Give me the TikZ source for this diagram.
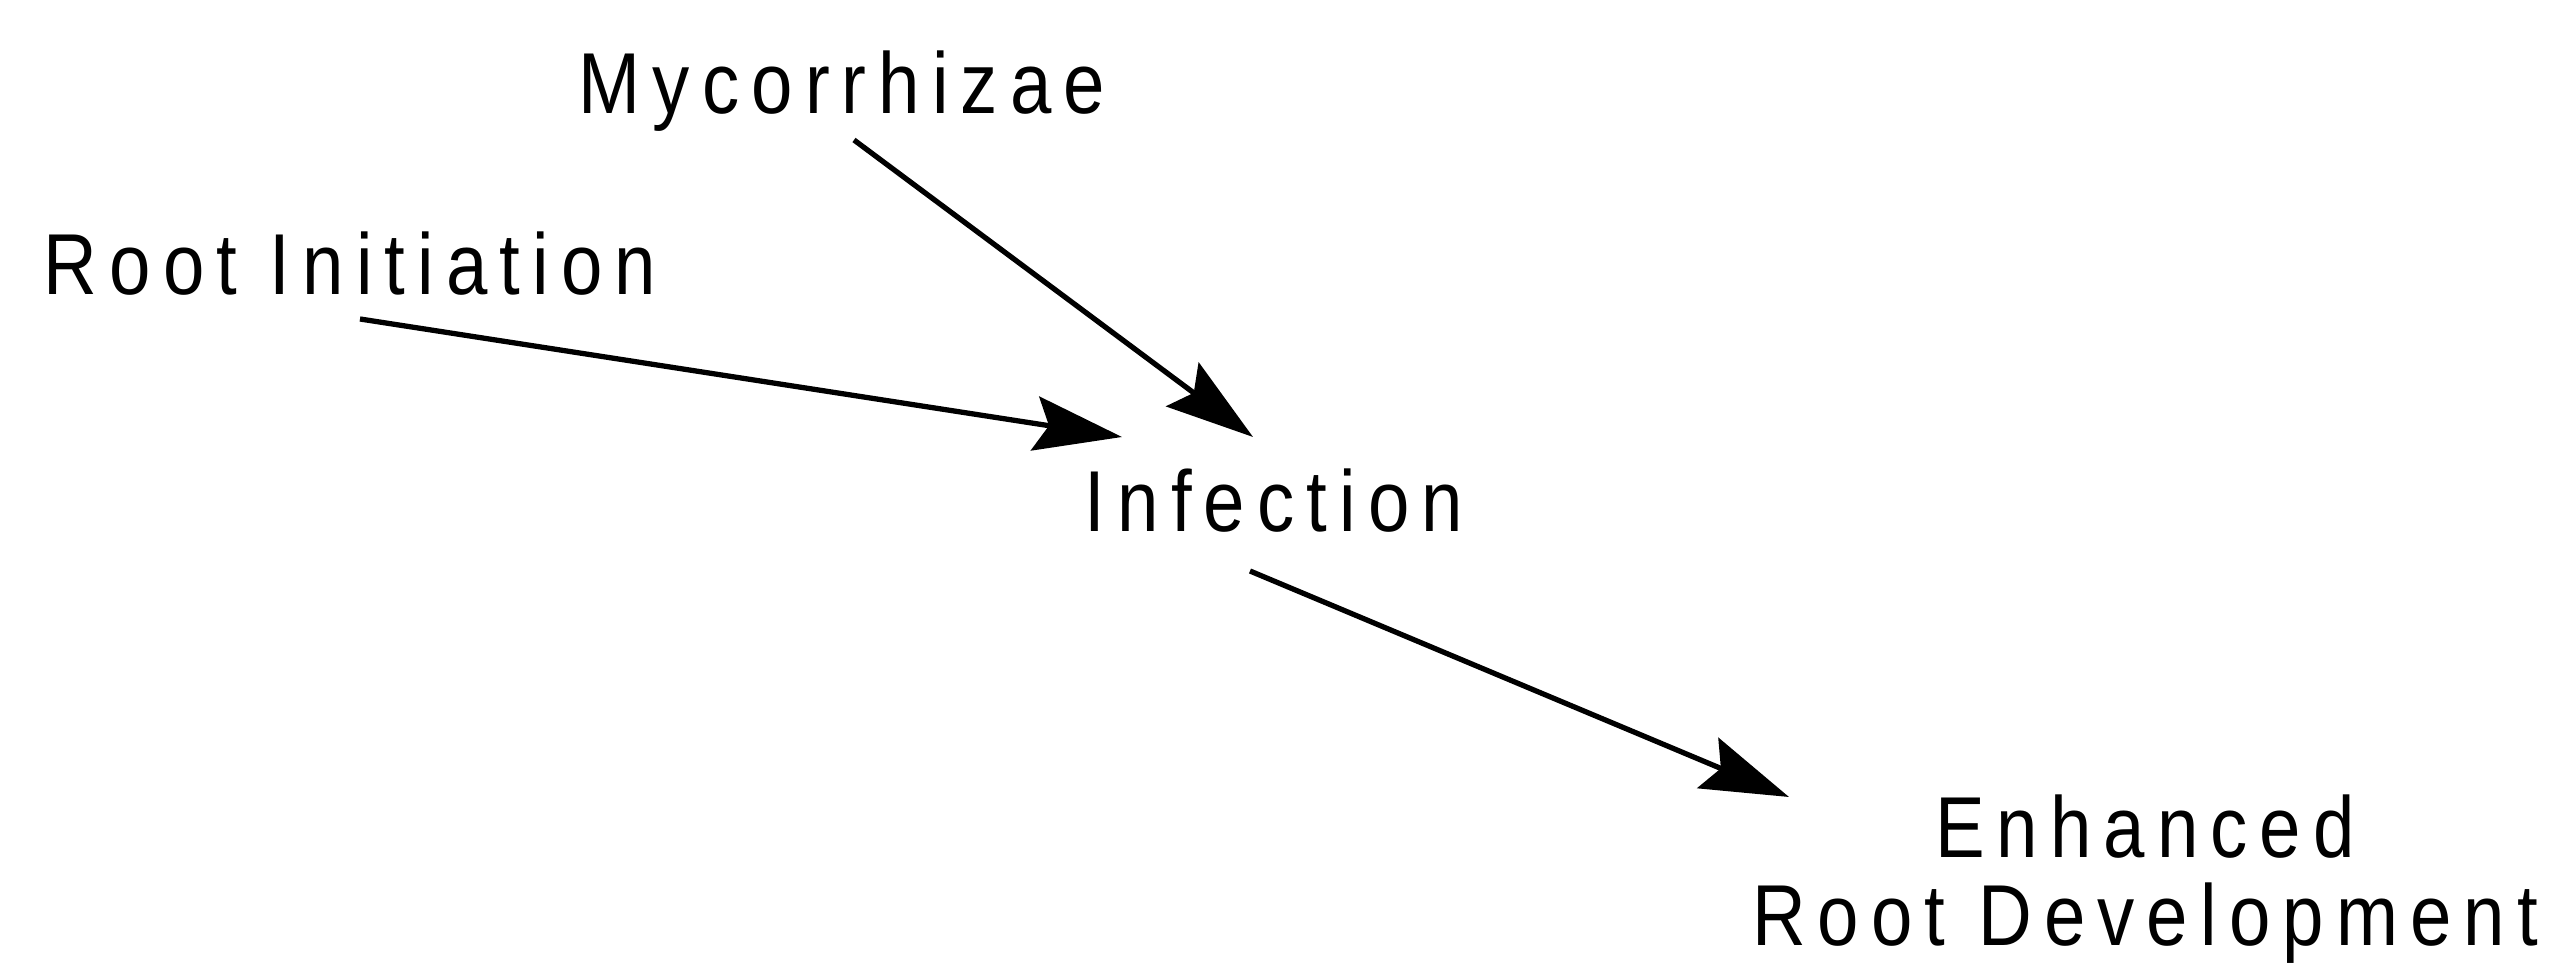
\documentclass[tikz,border=0pt]{standalone}
\usepackage{fontspec}
\setmainfont{Liberation Sans}[LetterSpace=14,FakeStretch=0.86]
\usetikzlibrary{arrows.meta}
\begin{document}
\begin{tikzpicture}[x=0.01cm,y=-0.01cm,
  lbl/.style={inner sep=0pt,anchor=base,font=\fontsize{24.6}{29}\selectfont},
  conn/.style={line width=1.5pt,-{Stealth[length=25pt,width=15.5pt,inset=4pt]}}]
\useasboundingbox (0,0) rectangle (2563,965);
\node[lbl] (myc) at (842,114) {Mycorrhizae};
\node[lbl] (ri) at (350,295) {Root Initiation};
\node[lbl] (inf) at (1274,532) {Infection};
\node[lbl] (enh) at (2145,858) {Enhanced};
\node[lbl] (rd) at (2145,946) {Root Development};
\coordinate (ri-out) at (360,319);
\coordinate (inf-in1) at (1122,437);
\coordinate (myc-out) at (854,140);
\coordinate (inf-in2) at (1253,437);
\coordinate (inf-out) at (1250,571);
\coordinate (enh-in) at (1789,797);
\draw[conn] (ri-out) -- (inf-in1);
\draw[conn] (myc-out) -- (inf-in2);
\draw[conn] (inf-out) -- (enh-in);
\end{tikzpicture}
\end{document}
